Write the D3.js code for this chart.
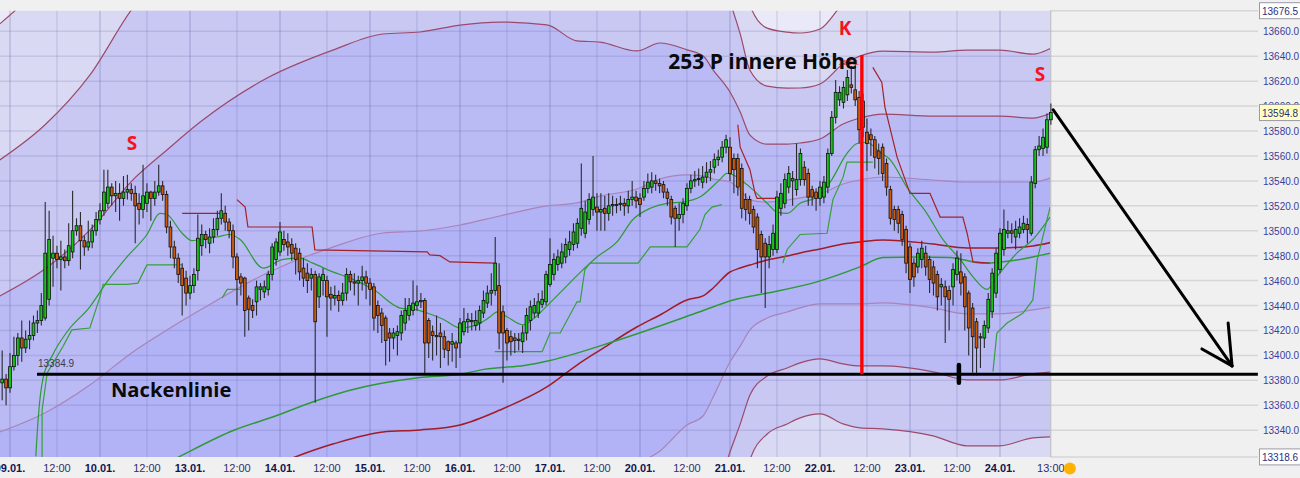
<!DOCTYPE html>
<html><head><meta charset="utf-8">
<script src="https://cdn.jsdelivr.net/npm/d3@7"></script>
<style>
html,body{margin:0;padding:0;background:#f0f0f0;overflow:hidden;}
svg{display:block;}
</style></head><body>
<svg id="c" width="1300" height="478"></svg>
<script>
// ---------- DATA ----------
const firstSlot = -2;          // hourly bars, 23 per trading day, slot 0 = 09.01. 00:00
const opens = [13378,13381,13374,13391,13400,13414,13406,13413,13416,13426,13428,13430,
13445,13478,13482,13477,13479,13476,13483,13500,13504,13492,
13487,13491,13500,13509,13516,13522,13535,13528,13530,13526,
13531,13533,13530,13522,13517,13522,13531,13526,13531,13536,
13529,13503,13487,13478,13470,13462,13450,13456,13468,13488,
13497,13490,13495,13501,13510,13514,13507,13500,13479,13463,
13462,13446,13440,13443,13453,13451,13453,13465,13477,13483,
13493,13491,13489,13486,13482,13470,13466,13462,13465,13447,
13460,13460,13449,13446,13448,13444,13450,13465,13459,13458,
13460,13463,13458,13455,13440,13434,13430,13418,13414,13416,
13418,13426,13432,13436,13440,13443,13444,13428,13419,13416,
13418,13415,13411,13409,13410,13410,13419,13427,13428,13424,
13426,13434,13442,13450,13452,13456,13435,13420,13415,13414,
13412,13411,13418,13428,13434,13434,13441,13443,13457,13465,
13473,13474,13479,13485,13489,13490,13502,13498,13509,13517,
13519,13515,13518,13514,13520,13521,13521,13522,13520,13525,
13527,13526,13527,13534,13535,13540,13538,13537,13531,13525,
13518,13510,13513,13520,13534,13540,13541,13539,13543,13547,
13551,13557,13559,13567,13567,13558,13558,13550,13525,13525,
13517,13511,13497,13490,13479,13485,13485,13518,13522,13535,
13540,13533,13541,13551,13546,13533,13531,13526,13527,13535,
13562,13591,13605,13603,13609,13617,13613,13607,13604,13579,
13577,13573,13564,13567,13554,13533,13517,13517,13513,13501,
13487,13474,13471,13477,13482,13477,13471,13465,13455,13455,
13452,13455,13465,13467,13463,13450,13438,13427,13414,13414,
13422,13435,13450,13469,13485,13498,13500,13495,13498,13501,
13505,13498,13538,13565,13566,13567,13589];
const highs = [13404,13385,13402,13415,13418,13428,13420,13428,13432,13436,13450,13523,
13516,13496,13488,13492,13485,13506,13532,13510,13515,13496,
13508,13505,13515,13522,13549,13549,13538,13540,13538,13544,
13545,13538,13536,13530,13553,13538,13532,13540,13553,13540,
13532,13508,13492,13482,13474,13468,13464,13470,13513,13505,
13500,13502,13510,13516,13530,13520,13510,13505,13482,13466,
13463,13448,13445,13460,13458,13460,13468,13490,13494,13507,
13500,13498,13494,13490,13486,13478,13474,13470,13468,13466,
13470,13464,13455,13456,13452,13458,13470,13468,13466,13464,
13472,13468,13462,13458,13444,13438,13432,13422,13422,13424,
13436,13446,13446,13460,13456,13450,13446,13430,13424,13432,
13426,13420,13412,13418,13412,13430,13438,13434,13434,13436,
13440,13452,13456,13466,13495,13474,13440,13422,13420,13418,
13418,13424,13438,13444,13446,13450,13452,13468,13494,13482,
13485,13490,13494,13500,13506,13510,13554,13524,13530,13560,
13530,13530,13528,13530,13528,13526,13528,13526,13532,13540,
13532,13530,13540,13546,13547,13545,13542,13540,13534,13528,
13520,13522,13526,13538,13545,13548,13550,13552,13555,13556,
13562,13565,13572,13577,13575,13562,13562,13554,13530,13528,
13520,13514,13500,13494,13496,13505,13532,13538,13546,13552,
13548,13570,13566,13556,13550,13536,13534,13540,13544,13566,
13596,13621,13616,13620,13629,13632,13635,13612,13610,13590,
13582,13576,13570,13570,13558,13536,13520,13520,13516,13504,
13490,13478,13486,13492,13488,13480,13476,13468,13462,13460,
13456,13474,13484,13482,13466,13452,13442,13430,13418,13428,
13450,13470,13486,13502,13517,13508,13506,13508,13510,13512,
13510,13544,13568,13576,13582,13594,13602];
const lows = [13364,13360,13370,13388,13392,13395,13402,13405,13412,13418,13424,13428,
13440,13455,13470,13452,13470,13472,13478,13496,13469,13480,
13484,13486,13496,13505,13512,13518,13520,13515,13508,13520,
13525,13524,13490,13505,13510,13515,13508,13520,13528,13524,
13498,13478,13470,13458,13432,13440,13445,13450,13460,13480,
13486,13482,13490,13496,13505,13500,13494,13470,13440,13448,
13415,13420,13430,13432,13444,13446,13448,13460,13472,13480,
13484,13480,13476,13465,13460,13455,13450,13452,13362,13438,
13448,13415,13436,13440,13435,13440,13444,13452,13448,13440,
13452,13445,13440,13420,13418,13410,13392,13395,13405,13400,
13412,13420,13428,13432,13436,13438,13385,13398,13396,13400,
13390,13398,13392,13395,13390,13398,13416,13418,13420,13420,
13420,13430,13438,13440,13448,13405,13378,13396,13400,13402,
13404,13402,13412,13420,13430,13430,13438,13440,13455,13460,
13468,13470,13474,13480,13484,13486,13496,13494,13505,13512,
13500,13500,13500,13508,13512,13514,13516,13512,13514,13520,
13518,13511,13524,13530,13530,13532,13530,13526,13520,13505,
13487,13500,13506,13516,13530,13535,13536,13534,13538,13540,
13546,13552,13555,13562,13540,13530,13528,13510,13508,13505,
13498,13470,13450,13438,13470,13480,13482,13512,13518,13530,
13520,13528,13536,13536,13520,13520,13516,13520,13522,13530,
13560,13586,13600,13598,13604,13610,13600,13570,13575,13548,
13560,13550,13545,13540,13528,13505,13500,13498,13488,13466,
13450,13455,13466,13470,13464,13450,13448,13436,13440,13410,
13420,13440,13460,13448,13420,13400,13386,13384,13390,13406,
13418,13430,13446,13466,13480,13494,13490,13485,13494,13498,
13490,13496,13534,13560,13560,13562,13585];
const closes = [13381,13374,13391,13400,13414,13406,13413,13416,13426,13428,13440,13482,
13493,13482,13477,13479,13476,13488,13500,13504,13492,13487,
13491,13500,13509,13516,13531,13535,13528,13530,13526,13531,
13533,13530,13520,13517,13528,13531,13526,13531,13536,13529,
13503,13487,13478,13465,13456,13450,13456,13465,13494,13497,
13493,13495,13501,13510,13516,13507,13500,13479,13461,13458,
13436,13437,13436,13455,13455,13455,13465,13487,13491,13499,
13489,13487,13482,13477,13467,13462,13460,13465,13427,13463,
13465,13447,13446,13448,13444,13450,13465,13459,13458,13460,
13463,13458,13453,13430,13432,13424,13412,13414,13418,13419,
13432,13436,13440,13442,13443,13444,13410,13410,13416,13415,
13415,13405,13404,13411,13406,13426,13427,13429,13427,13428,
13436,13444,13450,13452,13474,13418,13418,13410,13411,13412,
13413,13418,13432,13439,13440,13443,13445,13465,13473,13477,
13479,13483,13489,13491,13499,13506,13518,13515,13525,13527,
13515,13517,13514,13520,13521,13521,13522,13520,13525,13527,
13524,13521,13534,13539,13540,13538,13536,13531,13526,13511,
13510,13513,13522,13534,13540,13541,13542,13543,13547,13549,
13557,13559,13567,13573,13546,13549,13535,13518,13517,13514,
13503,13485,13479,13479,13489,13498,13527,13530,13541,13546,
13542,13541,13562,13541,13527,13527,13526,13535,13539,13562,
13591,13611,13611,13615,13623,13615,13605,13581,13583,13570,
13573,13559,13558,13546,13535,13510,13509,13506,13493,13474,
13461,13463,13482,13486,13471,13461,13458,13447,13457,13447,
13445,13469,13478,13458,13439,13422,13415,13406,13415,13424,
13445,13466,13482,13498,13501,13500,13498,13501,13503,13506,
13501,13539,13565,13568,13575,13589,13594.8];

// Bollinger-type envelope: middle line and band width (one level), read at these slots
const bandSlots = [-2.6,8.9,20.4,31.4,40.1,48.6,65.7,82.5,95.3,104.8,115.0,125.2,137.2,144.9,150.8,160.2,166.1,173.0,177.1,179.7,184.0,186.6,189.1,193.5,198.6,201.9,207.0,212.9,217.2,223.1,235.9,244.6,253.0,261.4,266.5];
const bandMid = [13229.5,13238.3,13251.9,13264.8,13276.0,13285.6,13309.7,13328.9,13338.6,13340.2,13344.2,13356.2,13374.7,13392.3,13404.3,13422.8,13432.4,13444.5,13447.7,13454.1,13466.9,13470.1,13472.5,13476.5,13479.7,13482.2,13485.4,13489.4,13491.0,13492.6,13489.4,13486.2,13486.2,13487.8,13491.0];
const bandWidth = [109.1,115.5,124.3,138.0,144.4,150.8,156.4,158.0,159.6,159.6,160.4,155.6,145.2,130.0,123.5,110.7,109.1,100.3,96.3,87.4,72.2,62.6,52.1,46.5,44.9,44.1,44.1,48.1,49.7,50.5,51.3,52.9,52.9,51.3,52.1];
const bandLevels = [4,3,2,1];

const greenShortMA = [[6.6,13319],[7.2,13349],[8.4,13381],[11,13401],[14.6,13419],[20.4,13439],[24.8,13459],[29.9,13479],[35,13497],[38.3,13514],[40.1,13513],[44,13498],[46.5,13492],[48.6,13493],[52.9,13495],[56.2,13497],[58.8,13493],[64.7,13470],[69.8,13477],[74.1,13478],[77.4,13474],[82.5,13467],[86.9,13462],[92.8,13453],[99.7,13438],[104,13436.5],[106.6,13434],[110.7,13429],[115,13422],[119.3,13424.5],[122.7,13431],[124.5,13435],[127,13431],[131.1,13424.5],[133.4,13428.5],[136.2,13436.5],[141.3,13452.6],[146.4,13468.6],[150,13479],[155.1,13491],[159.2,13509],[163.6,13518],[167.9,13522],[172,13523],[176.3,13527],[181.4,13541],[183.2,13546],[189.1,13535],[193.5,13522],[196,13515],[198.6,13514],[201.9,13522],[206.2,13527],[209.6,13539],[213.9,13562],[216.5,13570],[219,13571],[222.3,13563],[224.9,13557],[229.2,13535],[234.3,13514],[238.4,13493],[242.8,13477],[246.1,13463],[249.7,13453],[252.2,13463],[257.3,13482],[261.4,13493],[265.8,13511]];
const greenLongMA = [[40.9,13315],[43.4,13319],[57.2,13340],[67.5,13351],[77.7,13363],[86.9,13372],[104.3,13382],[115.3,13385],[121.4,13389],[131.4,13392],[138,13396],[155.1,13412],[176.3,13435],[184.8,13444.5],[193.5,13450],[206.2,13459],[217.2,13471],[223.1,13478.5],[231.8,13479],[240.2,13478.5],[248.7,13474],[265.8,13482]];

const greenStep1 = [[8.2,13316],[8.2,13356],[9.5,13386],[13.5,13407],[15.8,13420.5],[20.4,13422],[23,13447],[23.8,13457],[29.9,13457],[32.7,13458],[35,13472.6],[44,13472.6]];
const greenStep2 = [[54.2,13446],[55.5,13453],[58.8,13453]];
const greenStep3 = [[123.9,13403],[136,13403],[138,13418],[140.6,13418],[144.9,13443],[145.7,13443],[146.9,13468.6],[148.2,13474],[160.5,13474],[163.6,13487],[173,13487],[176.3,13501],[177.6,13513],[179.4,13519],[181.9,13521]];
const greenStep4 = [[197.5,13474],[198.6,13485],[201.9,13497],[208.8,13498],[210.3,13525],[212.9,13543],[213.9,13555],[220.5,13555]];
const greenStep5 = [[251.2,13387],[252.2,13418],[254.8,13426],[258.9,13434],[261.4,13444.5],[262.5,13476.6],[265.8,13519]];
const redStep1 = [[44,13514],[54.2,13514]];
const redStep2 = [[58,13525],[60.1,13519],[60.8,13503],[77.2,13503],[77.9,13484.6],[106.6,13483],[107.3,13480.6],[109.9,13480],[112.4,13475],[123.9,13474]];
const redStep3 = [[186,13585],[186.6,13567],[189.1,13549],[190.4,13530],[190.9,13526],[196,13526]];
const redStep4 = [[220.5,13631],[222.8,13619],[223.6,13599],[226.7,13559],[230,13530],[235.1,13530],[237.7,13511],[243.5,13511],[244.6,13498],[246.1,13475],[250.4,13474]];

const xTickSlots = [0,12,23,35,46,58,69,81,92,104,115,127,138,150,161,173,184,196,207,219,230,242,253,266];
const xTickLabels = ["09.01.","12:00","10.01.","12:00","13.01.","12:00","14.01.","12:00","15.01.","12:00","16.01.","12:00","17.01.","12:00","20.01.","12:00","21.01.","12:00","22.01.","12:00","23.01.","12:00","24.01.","13:00"];
const yTicks = [13340,13360,13380,13400,13420,13440,13460,13480,13500,13520,13540,13560,13580,13600,13620,13640,13660];
const yMin = 13318.6, yMax = 13676.5;
const neckline = 13384.9;
const necklineSlots = [6.9, 318.9];
const headTop = 13641, headSlot = 217.7;
const trendArrow = [[266.6,13597],[312.3,13391.6]];
const arrowHeadA = [[304.6,13405.2],[312.3,13391.6]];
const arrowHeadB = [[311.3,13426],[312.3,13391.6]];
const shoulderMark = [[242.5,13392.4],[242.5,13378]];
const labelsRed = [{t:"S",s:31.2,p:13570},{t:"K",s:213.4,p:13662.7},{t:"S",s:263.2,p:13626}];
const labelsBlack = [{t:"253 P innere Höhe",s:168.2,p:13629.5,f:21},{t:"Nackenlinie",s:25.8,p:13366.5,f:20.2}];

// ---------- SCALES ----------
const svg = d3.select("#c");
const x = d3.scaleLinear().domain([0,23]).range([10,100]);
const y = d3.scaleLinear().domain([yMin,yMax]).range([456.9,10.7]);
const plotL = 0, plotR = 1050, plotT = y(yMax), plotB = y(yMin), axisR = 1258;

const defs = svg.append("defs");
defs.append("clipPath").attr("id","pc").append("rect").attr("x",plotL).attr("y",plotT).attr("width",plotR-plotL).attr("height",plotB-plotT);
defs.append("clipPath").attr("id","cc").append("rect").attr("x",plotL).attr("y",plotT).attr("width",plotR-plotL+3).attr("height",plotB-plotT);

// ---------- BAND FILLS ----------
const bands = bandSlots.map((s,i)=>({s, m:bandMid[i], w:bandWidth[i]}));
const fillOuter = "#e9e9f7";
const fillColors = {4:"#d9d9f3",3:"#c8c8f3",2:"#babaf5",1:"#b2b2f6"};
const gFill = svg.append("g").attr("clip-path","url(#pc)");
gFill.append("rect").attr("x",plotL).attr("y",plotT).attr("width",plotR-plotL).attr("height",plotB-plotT).attr("fill",fillOuter);
bandLevels.forEach(k=>{
  gFill.append("path").datum(bands)
    .attr("fill",fillColors[k])
    .attr("d",d3.area().x(d=>x(d.s)).y0(d=>y(d.m-k*d.w)).y1(d=>y(d.m+k*d.w)).curve(d3.curveMonotoneX));
});

// ---------- GRID ----------
const gGrid = svg.append("g");
yTicks.forEach(v=>{
  gGrid.append("line").attr("x1",plotL).attr("x2",plotR).attr("y1",y(v)).attr("y2",y(v))
    .attr("stroke","rgba(80,80,150,0.16)").attr("stroke-width",1.5);
  gGrid.append("line").attr("x1",plotR).attr("x2",axisR).attr("y1",y(v)).attr("y2",y(v))
    .attr("stroke","#d6d6d6").attr("stroke-width",1.5);
});
[yMax,yMin].forEach(v=>{
  gGrid.append("line").attr("x1",plotR).attr("x2",axisR).attr("y1",y(v)).attr("y2",y(v))
    .attr("stroke","#d6d6d6").attr("stroke-width",1.5);
});
xTickSlots.forEach((s,i)=>{
  const day = xTickLabels[i].indexOf(":")<0;
  gGrid.append("line").attr("x1",x(s)).attr("x2",x(s)).attr("y1",plotT).attr("y2",plotB)
    .attr("stroke", day ? "rgba(80,80,150,0.24)" : "rgba(80,80,150,0.15)").attr("stroke-width",1.5);
});
gGrid.append("line").attr("x1",plotR+0.5).attr("x2",plotR+0.5).attr("y1",plotT).attr("y2",plotB).attr("stroke","#c4c4cc").attr("stroke-width",1);

// ---------- INDICATOR LINES ----------
const gLines = svg.append("g").attr("clip-path","url(#pc)");
const bandLineColor = {1:"#a884b8",2:"#9c4a6c",3:"#9c4a6c",4:"#9c4a6c"};
[1,2,3,4].forEach(k=>{
  [1,-1].forEach(sg=>{
    gLines.append("path").datum(bands).attr("fill","none")
      .attr("stroke",bandLineColor[k]).attr("stroke-width",1.2)
      .attr("d",d3.line().x(d=>x(d.s)).y(d=>y(d.m+sg*k*d.w)).curve(d3.curveMonotoneX));
  });
});
gLines.append("path").datum(bands).attr("fill","none").attr("stroke","#a01c26").attr("stroke-width",1.5)
  .attr("d",d3.line().x(d=>x(d.s)).y(d=>y(d.m)).curve(d3.curveMonotoneX));

gLines.append("path").datum(greenLongMA).attr("fill","none").attr("stroke","#2e9a36").attr("stroke-width",1.5)
  .attr("d",d3.line().x(d=>x(d[0])).y(d=>y(d[1])).curve(d3.curveMonotoneX));
gLines.append("path").datum(greenShortMA).attr("fill","none").attr("stroke","#2e9a36").attr("stroke-width",1.2)
  .attr("d",d3.line().x(d=>x(d[0])).y(d=>y(d[1])).curve(d3.curveMonotoneX));
[greenStep1,greenStep2,greenStep3,greenStep4,greenStep5].forEach(seg=>{
  gLines.append("path").datum(seg).attr("fill","none").attr("stroke","#36a03a").attr("stroke-width",1.2)
    .attr("d",d3.line().x(d=>x(d[0])).y(d=>y(d[1])));
});
[redStep1,redStep2,redStep3,redStep4].forEach(seg=>{
  gLines.append("path").datum(seg).attr("fill","none").attr("stroke","#a3222a").attr("stroke-width",1.2)
    .attr("d",d3.line().x(d=>x(d[0])).y(d=>y(d[1])));
});

// ---------- CANDLES ----------
const candles = opens.map((o,i)=>{
  const c = closes[i];
  return {s:firstSlot+i, o, c, h:Math.max(highs[i],o,c), l:Math.min(lows[i],o,c)};
});
const gC = svg.append("g").attr("clip-path","url(#cc)");
gC.selectAll("line.w").data(candles).join("line")
  .attr("x1",d=>x(d.s)).attr("x2",d=>x(d.s)).attr("y1",d=>y(d.h)).attr("y2",d=>y(d.l))
  .attr("stroke","#2a2a30").attr("stroke-width",1.1);
gC.selectAll("rect.b").data(candles).join("rect")
  .attr("x",d=>x(d.s)-1.4).attr("width",2.8)
  .attr("y",d=>y(Math.max(d.o,d.c)))
  .attr("height",d=>Math.max(1,Math.abs(y(d.o)-y(d.c))))
  .attr("fill",d=>d.c>=d.o?"#16c416":"#c95a0c")
  .attr("stroke","#101010").attr("stroke-width",0.8);

// ---------- ANNOTATIONS ----------
const gA = svg.append("g");
gA.append("line").attr("x1",x(necklineSlots[0])).attr("x2",x(necklineSlots[1]))
  .attr("y1",y(neckline)).attr("y2",y(neckline)).attr("stroke","#000").attr("stroke-width",3.2);
gA.append("text").attr("x",x(necklineSlots[0])+1).attr("y",y(neckline)-7)
  .attr("font-family","Liberation Sans, Arial, sans-serif").attr("font-size",10).attr("fill","#3a3a48")
  .text(neckline.toFixed(1));
gA.append("line").attr("x1",x(headSlot)).attr("x2",x(headSlot)).attr("y1",y(headTop)).attr("y2",y(neckline))
  .attr("stroke","#ff0000").attr("stroke-width",3.4);
gA.append("text").attr("x",x(headSlot)-3).attr("y",y(headTop)+10).attr("text-anchor","end")
  .attr("font-family","Liberation Sans, Arial, sans-serif").attr("font-size",8).attr("fill","#ff3030")
  .text((headTop-neckline).toFixed(1));
[trendArrow,arrowHeadA,arrowHeadB].forEach(seg=>{
  gA.append("path").datum(seg).attr("fill","none").attr("stroke","#000").attr("stroke-width",3)
    .attr("stroke-linecap","round").attr("d",d3.line().x(d=>x(d[0])).y(d=>y(d[1])));
});
gA.append("path").datum(shoulderMark).attr("stroke","#000").attr("stroke-width",4.5).attr("stroke-linecap","round")
  .attr("d",d3.line().x(d=>x(d[0])).y(d=>y(d[1])));
labelsRed.forEach(l=>{
  gA.append("text").attr("x",x(l.s)).attr("y",y(l.p)+7).attr("text-anchor","middle")
    .attr("font-family","Open Sans, sans-serif").attr("font-weight",700).attr("font-size",19)
    .attr("fill","#f5141e").text(l.t);
});
labelsBlack.forEach(l=>{
  gA.append("text").attr("x",x(l.s)).attr("y",y(l.p))
    .attr("font-family","Open Sans, sans-serif").attr("font-weight",700).attr("font-size",l.f)
    .attr("fill","#0a0a0a").text(l.t);
});

// ---------- AXES ----------
const gY = svg.append("g").attr("font-family","Liberation Sans, Arial, sans-serif").attr("font-size",10);
yTicks.forEach(v=>{
  gY.append("text").attr("x",1263).attr("y",y(v)+4).attr("fill","#3c3c9a").text(v.toFixed(1));
});
function box(v, fill, yy){
  gY.append("rect").attr("x",1259.5).attr("y",yy-8).attr("width",42).attr("height",16)
    .attr("fill",fill).attr("stroke","#9a9aa6").attr("stroke-width",1);
  gY.append("text").attr("x",1262).attr("y",yy+4).attr("fill","#2c2c7a").text(v.toFixed(1));
}
box(yMax,"#ffffff",y(yMax));
box(yMin,"#ffffff",y(yMin));
box(closes[closes.length-1],"#ffffc4",y(closes[closes.length-1]));

const gX = svg.append("g").attr("font-family","Liberation Sans, Arial, sans-serif").attr("font-size",11);
xTickSlots.forEach((s,i)=>{
  const day = xTickLabels[i].indexOf(":")<0;
  gX.append("text").attr("x",x(s)).attr("y",472).attr("text-anchor","middle")
    .attr("font-weight",day?700:400).attr("fill",day?"#141450":"#2e2e6e").text(xTickLabels[i]);
});
gX.append("circle").attr("cx",x(xTickSlots[xTickSlots.length-1])+19).attr("cy",468.5).attr("r",6)
  .attr("fill","#ffb300");
</script>
</body></html>
